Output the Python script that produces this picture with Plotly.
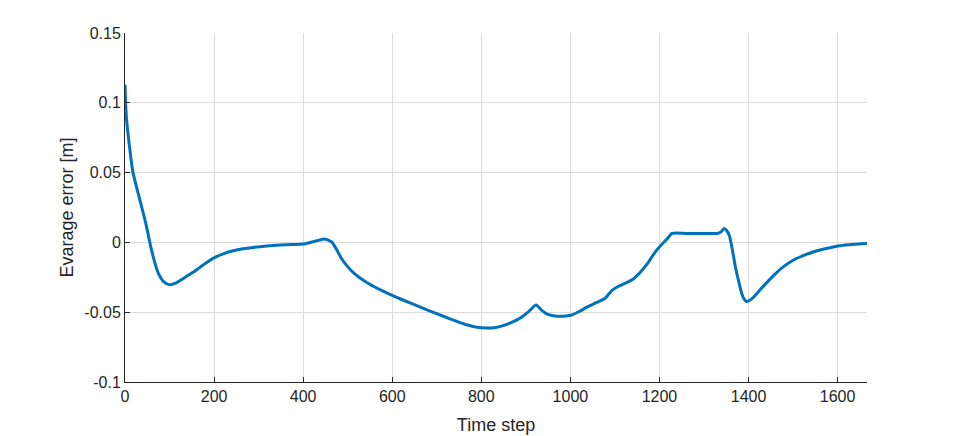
import plotly.graph_objects as go

time_step = [0, 3, 10, 18, 33, 48, 59, 74, 88, 100, 115, 130, 150, 168, 185, 202, 222, 243, 265, 288, 318, 348, 375, 400, 422, 437, 447, 455, 464, 475, 486, 499, 512, 542, 570, 600, 628, 655, 685, 715, 742, 767, 790, 812, 832, 849, 868, 887, 905, 923, 935, 947, 962, 977, 990, 1003, 1020, 1037, 1058, 1078, 1093, 1108, 1125, 1142, 1157, 1175, 1190, 1205, 1217, 1228, 1260, 1300, 1329, 1338, 1345, 1351, 1357, 1363, 1370, 1378, 1385, 1391, 1396, 1403, 1411, 1433, 1456, 1478, 1501, 1527, 1554, 1580, 1606, 1636, 1666]
avg_error = [0.113, 0.090, 0.069, 0.050, 0.031, 0.0119, -0.0048, -0.0214, -0.0285, -0.0303, -0.0290, -0.0260, -0.0220, -0.0179, -0.0140, -0.0107, -0.0080, -0.0060, -0.0046, -0.0036, -0.0026, -0.0019, -0.0015, -0.0012, 0.0005, 0.0017, 0.0024, 0.0018, 0.0003, -0.0050, -0.0115, -0.0170, -0.0214, -0.0286, -0.0335, -0.0380, -0.0418, -0.0453, -0.0492, -0.0529, -0.0562, -0.0590, -0.0608, -0.0614, -0.0610, -0.0596, -0.0573, -0.0543, -0.0500, -0.0448, -0.0485, -0.0512, -0.0525, -0.0529, -0.0527, -0.0520, -0.0495, -0.0464, -0.0432, -0.0400, -0.0345, -0.0314, -0.0290, -0.0260, -0.0214, -0.0143, -0.0071, -0.0015, 0.0024, 0.0064, 0.0064, 0.0064, 0.0064, 0.0075, 0.0100, 0.0085, 0.0047, -0.0040, -0.0167, -0.0280, -0.0369, -0.0410, -0.0424, -0.0415, -0.0393, -0.0315, -0.0238, -0.0175, -0.0126, -0.0090, -0.0060, -0.0040, -0.0024, -0.0014, -0.0007]

x_ticks = [0, 200, 400, 600, 800, 1000, 1200, 1400, 1600]
y_ticks = [-0.1, -0.05, 0, 0.05, 0.1, 0.15]
y_tick_labels = ["-0.1", "-0.05", "0", "0.05", "0.1", "0.15"]

FONT = "Liberation Sans, Arial"
TXT = "#262626"

fig = go.Figure()
fig.add_trace(go.Scatter(x=time_step, y=avg_error, mode="lines",
                         line=dict(color="#0072BD", width=3, shape="spline", smoothing=0.6),
                         showlegend=False))

axis_common = dict(showgrid=True, gridcolor="#DCDCDC", gridwidth=1, zeroline=False,
                   showline=True, linecolor=TXT, linewidth=1,
                   ticks="inside", ticklen=5, tickcolor=TXT,
                   tickfont=dict(family=FONT, size=16, color=TXT),
                   mirror=False, automargin=False)

fig.update_xaxes(range=[0, 1666], tickvals=x_ticks, **axis_common,
                 title=dict(text="Time step", font=dict(family=FONT, size=18, color=TXT), standoff=14))
fig.update_yaxes(range=[-0.1, 0.15], tickvals=y_ticks, ticktext=y_tick_labels, **axis_common,
                 title=dict(text="Evarage error [m]", font=dict(family=FONT, size=18, color=TXT), standoff=6))

fig.update_layout(width=950, height=428, margin=dict(l=117, r=91.3, t=25.3, b=53.7),
                  plot_bgcolor="white", paper_bgcolor="white")

fig.write_html("out.html")
